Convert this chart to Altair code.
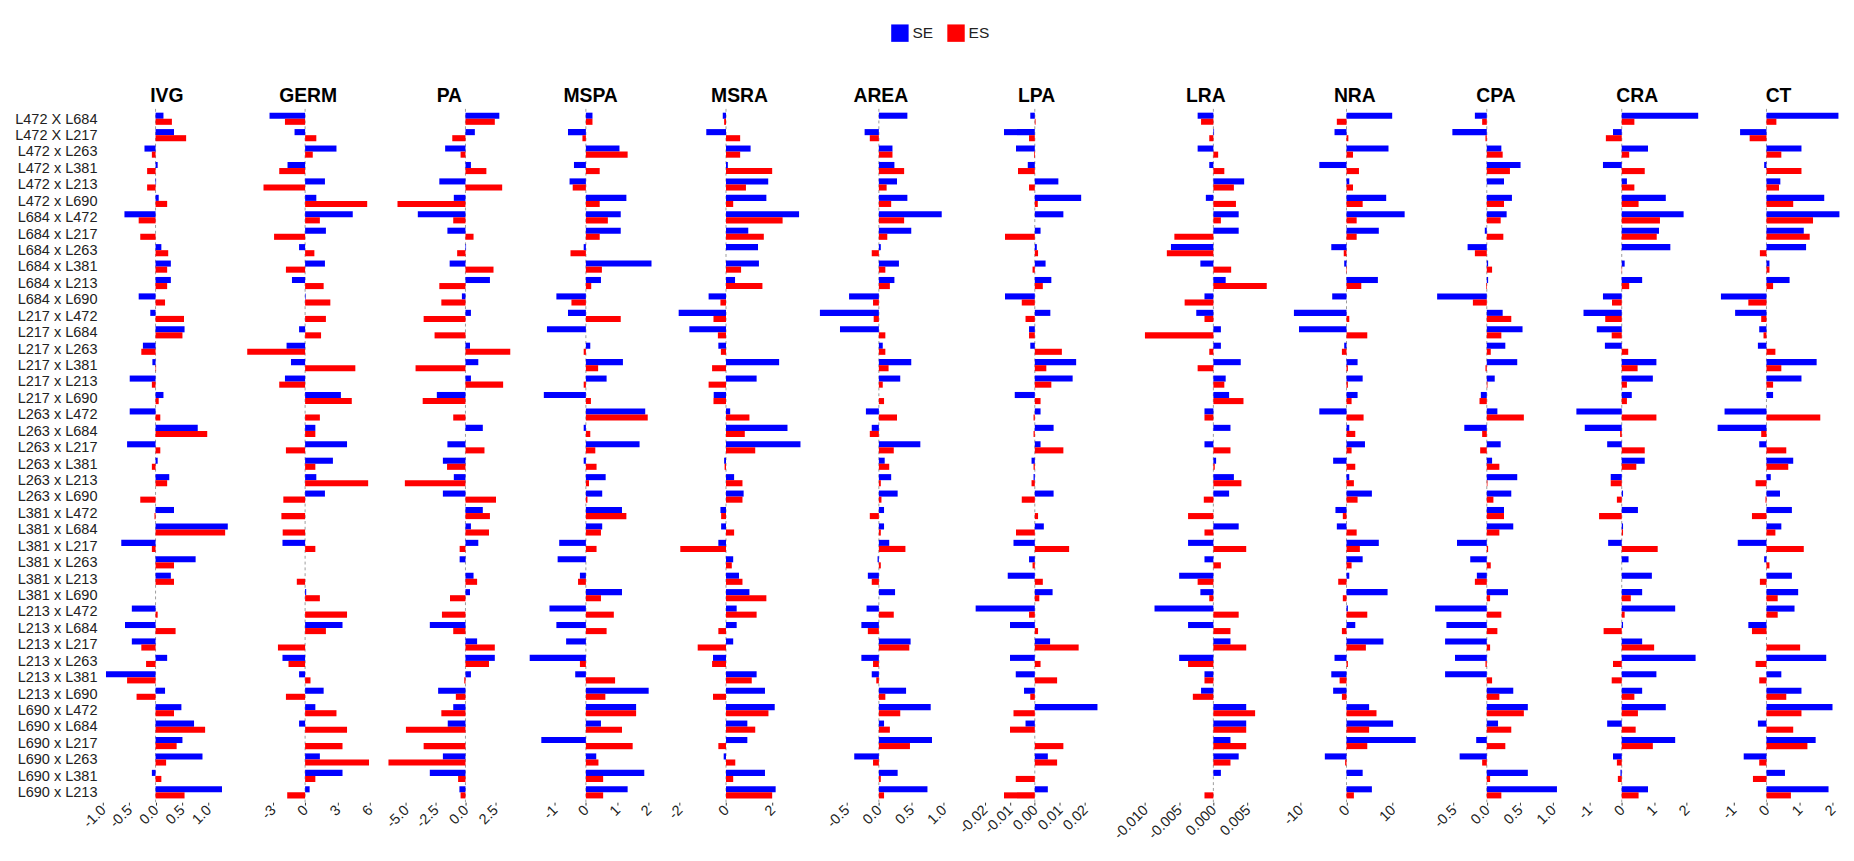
import altair as alt
import pandas as pd

crosses = [
    "L472 X L684", "L472 X L217", "L472 x L263", "L472 x L381", "L472 x L213", "L472 x L690",
    "L684 x L472", "L684 x L217", "L684 x L263", "L684 x L381", "L684 x L213", "L684 x L690",
    "L217 x L472", "L217 x L684", "L217 x L263", "L217 x L381", "L217 x L213", "L217 x L690",
    "L263 x L472", "L263 x L684", "L263 x L217", "L263 x L381", "L263 x L213", "L263 x L690",
    "L381 x L472", "L381 x L684", "L381 x L217", "L381 x L263", "L381 x L213", "L381 x L690",
    "L213 x L472", "L213 x L684", "L213 x L217", "L213 x L263", "L213 x L381", "L213 x L690",
    "L690 x L472", "L690 x L684", "L690 x L217", "L690 x L263", "L690 x L381", "L690 x L213",
]
series_names = ["SE", "ES"]
series_colors = ["#0000ff", "#ff0000"]
traits = ["IVG", "GERM", "PA", "MSPA", "MSRA", "AREA", "LPA", "LRA", "NRA", "CPA", "CRA", "CT"]

IVG_SE = [0.15, 0.35, -0.21, 0.04, 0.01, 0.06, -0.59, 0.0, 0.11, 0.29, 0.29, -0.32, -0.10, 0.55,
          -0.24, -0.06, -0.49, 0.15, -0.49, 0.80, -0.54, 0.04, 0.26, 0.0, 0.35, 1.37, -0.65, 0.76,
          0.29, 0.0, -0.45, -0.58, -0.45, 0.22, -0.94, 0.18, 0.49, 0.73, 0.51, 0.89, -0.07, 1.26]
IVG_ES = [0.31, 0.58, -0.07, -0.16, -0.16, 0.22, -0.32, -0.29, 0.24, 0.22, 0.22, 0.18, 0.54, 0.51,
          -0.27, 0.01, -0.07, 0.06, 0.09, 0.98, 0.09, -0.07, 0.22, -0.29, -0.02, 1.32, -0.07, 0.35,
          0.35, 0.0, 0.04, 0.38, -0.27, -0.18, -0.54, -0.36, 0.35, 0.94, 0.40, 0.20, 0.11, 0.55]
GERM_SE = [-3.3, -0.98, 2.91, -1.63, 1.84, 1.04, 4.42, 1.93, -0.56, 1.84, -1.22, 0.05, 0.0, -0.56,
           -1.72, -1.31, -1.87, 3.32, 0.0, 0.95, 3.89, 2.58, 1.04, 1.84, 0.0, 0.0, -2.1, 0.0,
           0.0, 0.1, 0.0, 3.47, 0.0, -2.1, -0.56, 1.72, 0.95, -0.56, 0.0, 1.37, 3.47, 0.42]
GERM_ES = [-1.87, 1.04, 0.71, -2.4, -3.86, 5.76, 1.37, -2.88, 0.86, -1.78, 1.72, 2.34, 1.93, 1.48,
           -5.37, 4.66, -2.40, 4.33, 1.37, 0.95, -1.78, 0.95, 5.85, -2.02, -2.2, -2.08, 0.95, 0.0,
           -0.77, 1.37, 3.89, 1.93, -2.52, -1.54, 0.5, -1.78, 2.91, 3.89, 3.47, 5.93, 0.95, -1.66]
PA_SE = [2.85, 0.79, -1.71, 0.46, -2.2, -0.98, -4.01, -1.52, 0.05, -1.33, 2.06, -0.3, 0.46, 0.0,
         0.38, 1.08, 0.46, -2.41, 0.0, 1.46, -1.52, -1.9, -0.98, -1.9, 1.46, 0.46, 1.08, -0.49,
         0.68, 0.38, 0.0, -3.0, 0.98, 2.47, 0.46, -2.3, -1.03, -1.49, 0.0, -1.9, -3.0, -0.51]
PA_ES = [2.47, -1.11, -0.41, 1.76, 3.09, -5.72, -1.03, 0.68, -0.7, 2.36, -2.2, -2.03, -3.52, -2.6,
         3.77, -4.2, 3.17, -3.6, -1.03, 0.0, 1.6, -1.55, -5.1, 2.57, 2.06, 1.98, -0.49, 0.0,
         0.98, -1.3, -1.98, -1.03, 2.47, 1.98, -0.1, -0.81, -2.03, -5.01, -3.52, -6.48, -0.62, -0.41]
MSPA_SE = [0.21, -0.57, 1.07, -0.38, -0.52, 1.29, 1.11, 1.11, -0.07, 2.09, 0.48, -0.94, -0.57, -1.24,
           0.14, 1.18, 0.66, -1.34, 1.89, -0.07, 1.71, -0.07, 0.63, 0.52, 1.15, 0.52, -0.85, -0.9,
           -0.19, 1.15, -1.16, -0.94, -0.63, -1.79, -0.34, 2.0, 1.6, 0.48, -1.42, 0.33, 1.86, 1.33]
MSPA_ES = [0.21, -0.11, 1.33, 0.44, -0.42, 0.44, 0.70, 0.44, -0.49, 0.51, 0.17, -0.46, 1.11, 0.0,
           -0.07, 0.39, -0.07, 0.16, 1.97, 0.14, 0.30, 0.34, 0.10, 0.05, 1.29, 0.48, 0.34, 0.0,
           -0.25, 0.48, 0.89, 0.66, 0.0, -0.19, 0.93, 0.62, 1.6, 1.15, 1.49, 0.40, 0.55, 0.55]
MSRA_SE = [-0.14, -0.85, 1.06, 0.08, 1.82, 1.74, 3.15, 0.96, 1.38, 1.42, 0.39, -0.75, -2.04, -1.58,
           -0.33, 2.29, 1.32, -0.53, 0.18, 2.65, 3.21, -0.08, 0.35, 0.76, -0.24, -0.21, -0.33, 0.31,
           0.56, 1.01, 0.46, 0.46, 0.31, -0.56, 1.32, 1.68, 2.1, 0.92, 0.92, -0.1, 1.68, 2.14]
MSRA_ES = [-0.08, 0.61, 0.61, 1.99, 0.86, 0.31, 2.44, 1.63, 0.0, 0.65, 1.57, -0.24, -0.54, -0.35,
           -0.22, -0.6, -0.75, -0.54, 1.01, 0.81, 1.26, -0.06, 0.71, 0.71, -0.21, 0.35, -1.97, 0.25,
           0.71, 1.74, 1.32, -0.33, -1.22, -0.6, 1.11, -0.56, 1.83, 1.26, -0.33, 0.40, 0.31, 1.99]
AREA_SE = [0.44, -0.22, 0.21, 0.24, 0.28, 0.44, 0.97, 0.5, 0.03, 0.31, 0.24, -0.46, -0.91, -0.60,
           0.06, 0.50, 0.33, 0.0, -0.2, -0.11, 0.64, 0.09, 0.19, 0.29, 0.08, 0.08, 0.16, -0.02,
           -0.17, 0.25, -0.19, -0.27, 0.49, -0.27, -0.11, 0.42, 0.80, 0.08, 0.82, -0.38, 0.29, 0.75]
AREA_ES = [0.0, -0.14, 0.21, 0.39, 0.12, 0.19, 0.39, 0.13, -0.11, 0.10, 0.17, -0.09, -0.08, 0.10,
           0.10, 0.15, 0.06, 0.08, 0.28, -0.14, 0.23, 0.16, 0.03, 0.04, -0.14, 0.03, 0.41, 0.03,
           -0.11, 0.0, 0.23, -0.17, 0.47, -0.09, -0.04, 0.10, 0.33, 0.17, 0.48, -0.09, 0.03, 0.08]
LPA_SE = [-0.0018, -0.0123, -0.0075, -0.0028, 0.0094, 0.0185, 0.0114, 0.0023, 0.0008, 0.0043,
          0.0066, -0.0119, 0.0062, -0.0023, -0.0018, 0.0165, 0.0151, -0.0080, 0.0023, 0.0075,
          0.0023, -0.0013, -0.0005, 0.0075, 0.0, 0.0036, -0.0085, -0.0023, -0.0108, 0.0071,
          -0.0236, -0.0099, 0.0061, -0.0099, -0.0076, -0.0043, 0.025, -0.0037, 0.0, 0.0052, 0.0, 0.0052]
LPA_ES = [0.0003, -0.0023, -0.0003, -0.0067, -0.0023, 0.0012, 0.0, -0.0119, 0.0013, -0.0009,
          0.0032, -0.0052, -0.0037, -0.0023, 0.0108, 0.0046, 0.0066, 0.0023, -0.0005, -0.0005,
          0.0114, -0.0005, -0.0013, -0.0052, 0.0013, -0.0075, 0.0137, -0.0009, 0.0032, 0.0018,
          -0.0023, 0.0013, 0.0175, 0.0023, 0.0089, -0.0018, -0.0085, -0.0099, 0.0114, 0.0089, -0.0076, -0.0123]
LRA_SE = [-0.0023, 0.0001, -0.0023, -0.0006, 0.0045, -0.0011, 0.0037, 0.0037, -0.0062, -0.0019,
          0.0018, -0.0013, -0.0025, 0.0011, 0.0011, 0.004, 0.0018, 0.0023, -0.0013, 0.0025,
          -0.0013, 0.0004, 0.003, 0.0023, 0.0, 0.0037, -0.0037, -0.0013, -0.005, -0.0019,
          -0.0086, -0.0037, 0.0025, -0.005, -0.0013, -0.0018, 0.0048, 0.0048, 0.0025, 0.0037, 0.0011, 0.0]
LRA_ES = [-0.0018, -0.0006, 0.0007, 0.0016, 0.003, 0.0033, 0.0011, -0.0057, -0.0068, 0.0026,
          0.0078, -0.0042, -0.0013, -0.01, -0.0006, -0.0023, 0.0016, 0.0044, -0.0013, 0.0,
          0.0025, 0.0002, 0.0041, -0.0014, -0.0037, -0.0013, 0.0048, 0.0011, -0.0023, -0.0006,
          0.0037, 0.0025, 0.0048, -0.0037, -0.0013, -0.003, 0.0061, 0.0048, 0.0048, 0.0025, 0.0, -0.0013]
NRA_SE = [9.9, -2.6, 9.1, -5.9, 0.6, 8.6, 12.6, 7.0, -3.3, -0.5, 6.8, -3.1, -11.4, -10.3,
          -0.5, 2.4, 3.5, 2.4, -5.9, 0.6, 4.0, -2.9, 0.6, 5.5, -2.4, -2.1, 7.0, 3.5,
          0.6, 8.9, 0.3, 1.9, 8.0, -2.6, -3.3, -2.9, 4.9, 10.1, 15.0, -4.7, 3.5, 5.5]
NRA_ES = [-2.1, 0.4, 1.4, 2.7, 1.4, 3.5, 2.2, 2.2, -0.6, 0.1, 3.2, 0.0, 0.6, 4.5,
          -1.0, 0.3, 0.3, 1.1, 3.7, 1.9, 1.1, 1.9, 1.6, 2.4, -0.8, 2.2, 2.9, 1.1,
          -1.8, -0.8, 4.5, -1.0, 4.2, 0.3, -1.5, -1.0, 6.5, 4.9, 4.5, -0.3, 0.0, 1.6]
CPA_SE = [-0.18, -0.52, 0.22, 0.51, 0.26, 0.38, 0.30, -0.03, -0.29, 0.02, 0.02, -0.75, 0.24, 0.54,
          0.28, 0.46, 0.12, -0.09, 0.16, -0.34, 0.21, 0.08, 0.46, 0.37, 0.26, 0.40, -0.45, -0.25,
          -0.15, 0.32, -0.78, -0.61, -0.63, -0.48, -0.63, 0.40, 0.62, 0.17, -0.16, -0.41, 0.62, 1.06]
CPA_ES = [-0.07, -0.02, 0.24, 0.35, 0.0, 0.26, 0.21, 0.25, -0.18, 0.08, -0.01, -0.21, 0.37, 0.22,
          0.06, -0.02, 0.01, -0.11, 0.56, -0.07, -0.10, 0.19, 0.01, 0.10, 0.26, 0.19, 0.02, 0.06,
          -0.18, 0.05, 0.22, 0.16, 0.05, -0.02, 0.08, 0.19, 0.56, 0.37, 0.28, -0.07, 0.05, 0.22]
CRA_SE = [2.36, -0.27, 0.81, -0.58, 0.16, 1.36, 1.91, 1.15, 1.50, 0.09, 0.63, -0.58, -1.18, -0.77,
          -0.52, 1.07, 0.96, 0.31, -1.40, -1.14, -0.45, 0.71, -0.34, 0.04, 0.50, 0.04, -0.42, 0.21,
          0.93, 0.63, 1.65, 0.04, 0.63, 2.28, 1.07, 0.63, 1.36, -0.45, 1.65, -0.27, -0.04, 0.81]
CRA_ES = [0.39, -0.49, 0.23, 0.71, 0.39, 0.52, 1.18, 1.08, 0.0, 0.01, 0.23, -0.30, -0.51, -0.31,
          0.2, 0.49, 0.16, 0.16, 1.07, -0.05, 0.71, 0.45, -0.34, -0.15, -0.70, 0.04, 1.11, 0.0,
          0.0, 0.28, 0.09, -0.56, 1.0, -0.27, -0.31, 0.39, 0.50, 0.43, 0.96, -0.15, -0.12, 0.52]
CT_SE = [2.18, -0.80, 1.06, -0.07, 0.42, 1.75, 2.21, 1.13, 1.20, 0.09, 0.70, -1.38, -0.95, -0.22,
         -0.26, 1.52, 1.06, 0.20, -1.27, -1.48, -0.22, 0.81, 0.13, 0.41, 0.77, 0.45, -0.87, -0.07,
         0.77, 0.96, 0.85, -0.55, 0.0, 1.81, 0.45, 1.06, 2.0, -0.26, 1.49, -0.69, 0.56, 1.88]
CT_ES = [0.30, -0.51, 0.45, 1.06, 0.38, 0.81, 1.41, 1.31, -0.20, 0.09, 0.20, -0.55, -0.16, -0.09,
         0.27, 0.45, 0.20, 0.0, 1.63, -0.16, 0.60, 0.66, -0.33, -0.03, -0.44, 0.27, 1.13, 0.09,
         -0.20, 0.34, 0.34, -0.44, 1.02, -0.33, -0.22, 0.60, 1.06, 0.81, 1.24, -0.22, -0.41, 0.74]

IVG_TICKS = [-1.0, -0.5, 0.0, 0.5, 1.0]
GERM_TICKS = [-3, 0, 3, 6]
PA_TICKS = [-5.0, -2.5, 0.0, 2.5]
MSPA_TICKS = [-1, 0, 1, 2]
MSRA_TICKS = [-2, 0, 2]
AREA_TICKS = [-0.5, 0.0, 0.5, 1.0]
LPA_TICKS = [-0.02, -0.01, 0.0, 0.01, 0.02]
LRA_TICKS = [-0.010, -0.005, 0.0, 0.005]
NRA_TICKS = [-10, 0, 10]
CPA_TICKS = [-0.5, 0.0, 0.5, 1.0]
CRA_TICKS = [-1, 0, 1, 2]
CT_TICKS = [-1, 0, 1, 2]

DATA = {
    "IVG": (IVG_SE, IVG_ES, IVG_TICKS, ".1f"),
    "GERM": (GERM_SE, GERM_ES, GERM_TICKS, "d"),
    "PA": (PA_SE, PA_ES, PA_TICKS, ".1f"),
    "MSPA": (MSPA_SE, MSPA_ES, MSPA_TICKS, "d"),
    "MSRA": (MSRA_SE, MSRA_ES, MSRA_TICKS, "d"),
    "AREA": (AREA_SE, AREA_ES, AREA_TICKS, ".1f"),
    "LPA": (LPA_SE, LPA_ES, LPA_TICKS, ".2f"),
    "LRA": (LRA_SE, LRA_ES, LRA_TICKS, ".3f"),
    "NRA": (NRA_SE, NRA_ES, NRA_TICKS, "d"),
    "CPA": (CPA_SE, CPA_ES, CPA_TICKS, ".1f"),
    "CRA": (CRA_SE, CRA_ES, CRA_TICKS, "d"),
    "CT": (CT_SE, CT_ES, CT_TICKS, "d"),
}

FONT = "Liberation Sans"
PANEL_W = 138.5
PANEL_H = 716.7

legend = alt.Legend(
    title=None, orient="none", legendX=818, legendY=-87.3, direction="horizontal",
    symbolType="square", symbolSize=324, symbolStrokeWidth=0, symbolOpacity=1,
    labelFontSize=16, labelFont=FONT, labelColor="#222", columnPadding=14,
    labelOffset=4, padding=0,
)


def panel(i, t):
    se, es, ticks, fmt = DATA[t]
    df = pd.DataFrame({
        "cross": crosses + crosses,
        "series": ["SE"] * len(se) + ["ES"] * len(es),
        "value": se + es,
    })
    allv = se + es
    lo, hi = min(allv), max(allv)
    r = hi - lo
    dom = [lo - 0.05 * r, hi + 0.05 * r]
    xaxis = alt.Axis(
        values=ticks, format=fmt, title=None, domain=False, grid=False,
        tickSize=3, tickColor="#333", tickWidth=1,
        labelAngle=-45, labelAlign="right", labelBaseline="middle",
        labelFontSize=15, labelColor="#222", labelFont=FONT, labelPadding=2,
        labelOverlap=False, labelFlush=False, labelBound=False, labelSeparation=0,
        labelExpr="replace(datum.label, '\u2212', '-')",
    )
    xscale = alt.Scale(domain=dom, nice=False, zero=False)
    if i == 0:
        yaxis = alt.Axis(title=None, ticks=False, domain=False, labelFontSize=15,
                         labelColor="#222", labelFont=FONT, labelPadding=3, labelLimit=300)
    else:
        yaxis = None
    bars = alt.Chart(df).mark_bar().encode(
        x=alt.X("value:Q", scale=xscale, axis=xaxis),
        y=alt.Y("cross:N", sort=crosses,
                scale=alt.Scale(paddingInner=0.26, paddingOuter=0.23), axis=yaxis),
        yOffset=alt.YOffset("series:N", sort=series_names,
                            scale=alt.Scale(paddingInner=0, paddingOuter=0)),
        color=alt.Color("series:N", sort=series_names,
                        scale=alt.Scale(domain=series_names, range=series_colors),
                        legend=legend),
    )
    zero = alt.Chart(pd.DataFrame({"value": [0.0]})).mark_rule(
        color="#999999", strokeDash=[3, 3], strokeWidth=1
    ).encode(x=alt.X("value:Q", scale=xscale, axis=xaxis))
    return alt.layer(zero, bars).properties(
        width=PANEL_W, height=PANEL_H,
        title=alt.TitleParams(t, fontSize=20, fontWeight="bold", font=FONT,
                              color="black", offset=3, anchor="middle"),
    )


panels = [panel(i, t) for i, t in enumerate(traits)]
chart = (
    alt.hconcat(*panels, spacing=7)
    .resolve_scale(x="independent", y="independent", color="shared")
    .resolve_legend(color="shared")
    .properties(padding={"left": 6, "top": 2, "right": 0, "bottom": 0})
    .configure_view(strokeWidth=0)
    .configure_axisX(labelOverlap=False)
)

chart.save("out.html", embed_options={"renderer": "svg", "actions": False})
